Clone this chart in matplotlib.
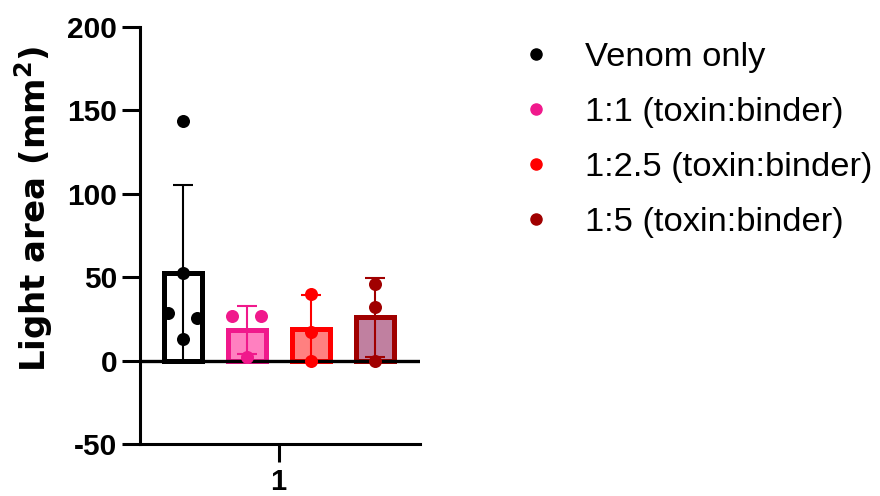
import matplotlib
matplotlib.use("Agg")
import matplotlib.pyplot as plt
from matplotlib.lines import Line2D
import numpy as np

# ---- data -------------------------------------------------------------
groups = ["Venom only", "1:1 (toxin:binder)", "1:2.5 (toxin:binder)", "1:5 (toxin:binder)"]
venom_only = [143.5, 52.5, 28.5, 25.5, 13.0]
ratio_1_1 = [26.5, 26.5, 2.0]
ratio_1_2_5 = [40.0, 17.0, 0.0]
ratio_1_5 = [46.0, 32.0, 0.0]
x_tick_labels = ["1"]
y_ticks = [-50, 0, 50, 100, 150, 200]

# ---- style ------------------------------------------------------------
edge_colors = ["#000000", "#F0198C", "#FF0000", "#A00000"]
fill_colors = ["#FFFFFF", "#FF80C0", "#FF8080", "#C080A0"]
# horizontal spread of the replicate dots inside each bar (fraction of bar width)
dot_spread = [[0, 0, -0.38, 0.38, 0], [-0.38, 0.38, 0], [0, 0, 0], [0, 0, 0]]

plt.rcParams["font.family"] = ["Liberation Sans", "DejaVu Sans"]
plt.rcParams["mathtext.fontset"] = "custom"
plt.rcParams["mathtext.rm"] = "DejaVu Sans:bold"
plt.rcParams["mathtext.bf"] = "DejaVu Sans:bold"

series = [venom_only, ratio_1_1, ratio_1_2_5, ratio_1_5]
means = [np.mean(v) for v in series]
sds = [np.std(v, ddof=1) for v in series]

fig = plt.figure(figsize=(8.8, 4.96), dpi=100)
ax = fig.add_axes([140 / 880, 1 - 444 / 496, 280 / 880, 417 / 496])

spacing = 0.2286
bar_w = 0.136
centers = [1 + (i - 1.5) * spacing for i in range(len(series))]

for i, vals in enumerate(series):
    xc = centers[i]
    ax.bar(xc, means[i], width=bar_w, color=fill_colors[i], edgecolor=edge_colors[i],
           linewidth=3.6, zorder=2)
    ax.errorbar(xc, means[i], yerr=sds[i], color=edge_colors[i], elinewidth=1.5,
                capsize=7.5, capthick=1.5, zorder=3)
    xs = [xc + d * bar_w for d in dot_spread[i]]
    ax.scatter(xs, vals, s=88, color=edge_colors[i], zorder=5, clip_on=False, linewidths=0)

ax.axhline(0, color="black", lw=2.4, zorder=4)

ax.set_xlim(0.505, 1.505)
ax.set_ylim(-50, 200)
ax.set_yticks(y_ticks)
ax.set_yticklabels([str(t) for t in y_ticks])
ax.set_xticks([1])
ax.set_xticklabels(x_tick_labels)

for s in ["top", "right"]:
    ax.spines[s].set_visible(False)
for s in ["left", "bottom"]:
    ax.spines[s].set_linewidth(2.2)

ax.tick_params(axis="both", width=2.2, length=13, labelsize=21.5)
ax.tick_params(axis="y", pad=3.5)
ax.tick_params(axis="x", pad=4, labelsize=21)
for lab in ax.get_xticklabels() + ax.get_yticklabels():
    lab.set_fontweight("bold")

ax.set_ylabel("Light area (mm$^2$)", fontsize=24.5, fontweight="bold",
              family=["DejaVu Sans"])
ax.yaxis.set_label_coords(-0.304, 0.564)

handles = [Line2D([], [], linestyle="none", marker="o", markersize=8,
                  markerfacecolor=c, markeredgecolor=c) for c in edge_colors]
fig.legend(handles, groups, loc="upper left", bbox_to_anchor=(508.5 / 880, 1 - 42 / 496),
           frameon=False, fontsize=24.8, handlelength=1.6, handletextpad=0.62,
           labelspacing=0.69, borderpad=0, borderaxespad=0)

fig.savefig("out.png", dpi=100)
